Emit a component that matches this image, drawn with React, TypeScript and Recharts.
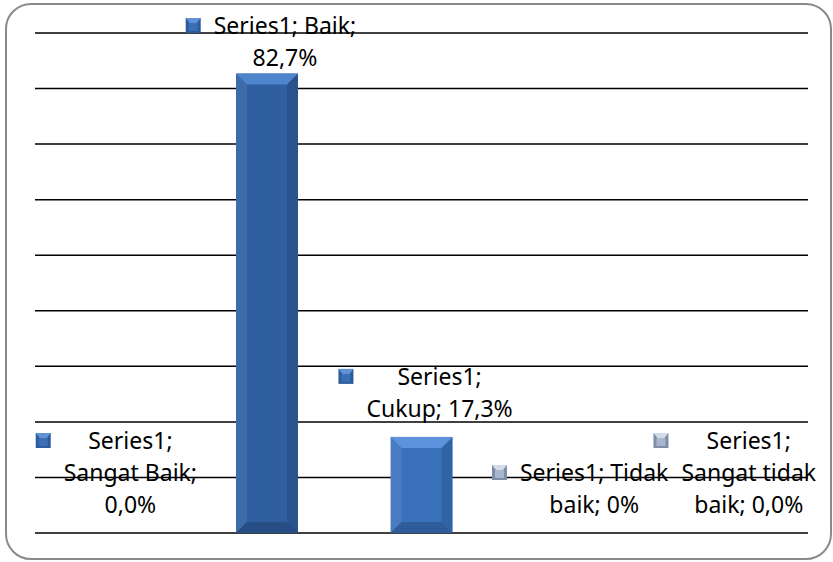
import React from "react";
import { BarChart, Bar, XAxis, YAxis, CartesianGrid, LabelList } from "recharts";

const categories = ["Sangat Baik", "Baik", "Cukup", "Tidak baik", "Sangat tidak baik"];
const values = [0, 82.7, 17.3, 0, 0];
const labelLines = [
  ["Series1;", "Sangat Baik;", "0,0%"],
  ["Series1; Baik;", "82,7%"],
  ["Series1;", "Cukup; 17,3%"],
  ["Series1; Tidak", "baik; 0%"],
  ["Series1;", "Sangat tidak", "baik; 0,0%"],
];
const yTicks = [0, 10, 20, 30, 40, 50, 60, 70, 80, 90];

const data = categories.map((name, i) => ({ name, value: values[i] }));

const FONT = "'Noto Sans', sans-serif";
const FS = 23;
const LINE = 32;
const MIN_BASELINE = 34;

let ctx: CanvasRenderingContext2D | null = null;
function textWidth(s: string) {
  if (!ctx) ctx = document.createElement("canvas").getContext("2d");
  if (!ctx) return s.length * FS * 0.5;
  ctx.font = `${FS}px "Noto Sans"`;
  return ctx.measureText(s).width;
}

function BevelBar(props: any) {
  const { x, y, width: w, height: h, index } = props;
  if (!h || h <= 0) return null;
  const base = index === 1 ? "#2f5fa1" : "#3a71bc";
  const b = Math.min(11, h / 4);
  return (
    <g>
      <rect x={x} y={y} width={w} height={h} fill={base} />
      <polygon
        points={`${x},${y} ${x + w},${y} ${x + w - b},${y + b} ${x + b},${y + b}`}
        fill={index === 1 ? "#4f85cc" : "#5c93dc"}
      />
      <polygon
        points={`${x},${y} ${x + b},${y + b} ${x + b},${y + h - b} ${x},${y + h}`}
        fill="#ffffff"
        fillOpacity={0.08}
      />
      <polygon
        points={`${x + w},${y} ${x + w - b},${y + b} ${x + w - b},${y + h - b} ${x + w},${y + h}`}
        fill="#000000"
        fillOpacity={0.12}
      />
      <polygon
        points={`${x},${y + h} ${x + b},${y + h - b} ${x + w - b},${y + h - b} ${x + w},${y + h}`}
        fill="#000000"
        fillOpacity={0.18}
      />
    </g>
  );
}

function DataLabel(props: any) {
  const { x, y, width, index } = props;
  const lines = labelLines[index];
  if (!lines) return null;
  const cx = Number(x) + Number(width) / 2 + 18;
  let first = Number(y) - 20 - (lines.length - 1) * LINE;
  if (first < MIN_BASELINE) first = MIN_BASELINE;
  const blockW = Math.max(...lines.map(textWidth));
  const keyX = cx - blockW / 2 - 28;
  const keyY = first - 16;
  const gray = index >= 3;
  const kBase = gray ? "#7d8daa" : "#2c5c9c";
  const kTop = gray ? "#d3dbe8" : "#5f92d6";
  return (
    <g>
      <rect x={keyX} y={keyY} width={15} height={15} fill={kBase} />
      <polygon
        points={`${keyX},${keyY} ${keyX + 15},${keyY} ${keyX + 11},${keyY + 5} ${keyX + 4},${keyY + 5}`}
        fill={kTop}
      />
      <rect x={keyX + 3} y={keyY + 5} width={9} height={8} fill={gray ? "#a9b6cc" : "#3a6fb6"} />
      {lines.map((ln, i) => (
        <text
          key={i}
          x={cx}
          y={first + i * LINE}
          textAnchor="middle"
          fontFamily={FONT}
          fontSize={FS}
          fill="#000"
        >
          {ln}
        </text>
      ))}
    </g>
  );
}

export default function App() {
  return (
    <div style={{ position: "absolute", left: 0, top: 0, width: 833, height: 562, background: "#fff" }}>
      <div
        style={{
          position: "absolute",
          left: 5,
          top: 3,
          width: 823,
          height: 553,
          border: "2px solid #8a8a8a",
          borderRadius: 26,
        }}
      />
      <div style={{ position: "absolute", left: 0, top: 0 }}>
        <BarChart
          width={833}
          height={562}
          data={data}
          margin={{ top: 33, right: 25, left: 35, bottom: 29 }}
          barCategoryGap="30%"
        >
          <CartesianGrid vertical={false} stroke="#000" strokeWidth={1.5} />
          <XAxis dataKey="name" hide />
          <YAxis hide domain={[0, 90]} ticks={yTicks} />
          <Bar dataKey="value" shape={<BevelBar />} isAnimationActive={false}>
            <LabelList dataKey="value" content={<DataLabel />} />
          </Bar>
        </BarChart>
      </div>
    </div>
  );
}
